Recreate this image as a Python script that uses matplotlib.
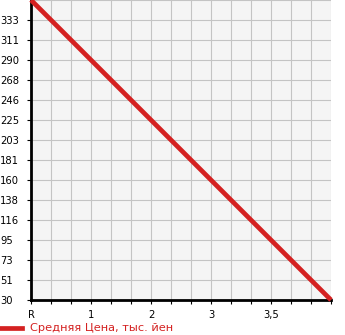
import matplotlib
matplotlib.use("Agg")
import matplotlib.pyplot as plt
from matplotlib.lines import Line2D

# x in grid steps, y in thousands of yen
x_vals = [0, 15]
price = [354.6, 30]
x_tick_pos = [0, 3, 6, 9, 12]
x_tick_labels = ["R", "1", "2", "3", "3,5"]
y_tick_labels = ["30", "51", "73", "95", "116", "138", "160", "181",
                 "203", "225", "246", "268", "290", "311", "333"]
y_step = 21.64
legend_label = "Средняя Цена, тыс. йен"

red = "#d42121"
fig = plt.figure(figsize=(3.45, 3.35), dpi=100)
ax = fig.add_axes([31 / 345, 35 / 335, 300 / 345, 300 / 335])
ax.set_facecolor("#f5f5f5")

y_ticks = [30 + i * y_step for i in range(len(y_tick_labels))]
ax.set_xlim(0, 15)
ax.set_ylim(30, 30 + 15 * y_step)
ax.set_xticks(range(16), minor=True)
ax.set_xticks(x_tick_pos)
ax.set_xticklabels(x_tick_labels, fontsize=7.2)
ax.set_yticks(y_ticks)
ax.set_yticklabels(y_tick_labels, fontsize=7.2, ha="left")
ax.set_yticks([30 + 15 * y_step], minor=True)
ax.tick_params(axis="y", which="major", length=3, pad=19.3, width=0.8)
ax.tick_params(axis="y", which="minor", length=0)
ax.tick_params(axis="x", which="both", length=3, width=0.8, pad=4)

ax.grid(True, which="both", color="#c4c4c4", lw=0.8)
ax.set_axisbelow(True)
for s in ["top", "right"]:
    ax.spines[s].set_visible(False)
for s in ["left", "bottom"]:
    ax.spines[s].set_linewidth(2)
    ax.spines[s].set_color("black")

ax.plot(x_vals, price, color=red, lw=3.4, solid_capstyle="butt", clip_on=False, zorder=5)

# legend below the chart
fig.add_artist(Line2D([0, 22 / 345], [7 / 335, 7 / 335], color=red, lw=3.4,
                      transform=fig.transFigure))
fig.text(30 / 345, 7 / 335, legend_label, color=red, fontsize=8.2, va="center",
         ha="left")

fig.savefig("out.png", dpi=100)
